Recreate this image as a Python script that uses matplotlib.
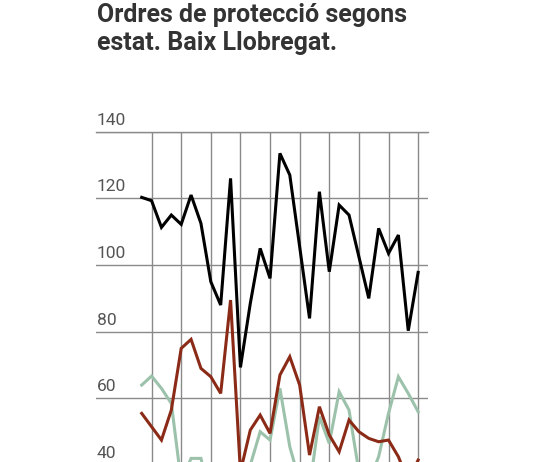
import matplotlib
matplotlib.use("Agg")
import matplotlib.pyplot as plt
import matplotlib.transforms as mt

total = [120.3,119.3,111.3,115,112.2,121,112.5,95,88,126,69.3,88.5,105,96,133.5,127,105.5,84,122,98,118,115,102.5,90,111,103.5,109,80.3,97.8]
red = [55.5,51.5,47.5,56.5,75,77.7,69,66.5,61.5,89.5,38,50.5,55,49.5,67,72.5,64,43,57.5,49,44,53.5,50,48,47,47.5,42.5,35,41.5]
green = [64,66.7,63,58.5,35,42,42,30,28,30,32,40,50,47.5,63,45.5,35,33,54.5,46.5,62,56.5,38,35,42.5,63.5,55.5,66.5,61.5,56]
green = green[:24] + [63.5,55.5,66.5,61.5,56]
green[24] = 42.5
yticks = [40, 60, 80, 100, 120, 140]
x = list(range(len(total)))

fig = plt.figure(figsize=(5.34, 4.62), dpi=100)
ax = fig.add_axes([96/534, (462-598.4)/462, (428-96)/534, (598.4-131.7)/462])
ax.set_xlim(-4.63, 29.0)
ax.set_ylim(0, 140)
for s in ax.spines.values():
    s.set_visible(False)
ax.set_xticks(range(1, 29, 3))
ax.set_yticks(yticks)
ax.tick_params(length=0, labelbottom=False, labelleft=False)
ax.grid(True, color="#8a8a8a", linewidth=1)
ax.axhline(140, color="#8a8a8a", linewidth=1, clip_on=False)
ax.set_axisbelow(True)
tr = mt.blended_transform_factory(ax.transAxes, ax.transData)
for v in yticks:
    ax.text(0.003, v + 1.2, str(v), transform=tr, ha="left", va="bottom", fontsize=12.5,
            color="#555555", family="Roboto", clip_on=False)
ax.plot(x, green, color="#9cc2ab", lw=2.2, solid_joinstyle="miter")
ax.plot(x, red, color="#8b2b17", lw=2.2, solid_joinstyle="miter")
ax.plot(x, total, color="#000000", lw=2.2, solid_joinstyle="miter", clip_on=False)
fig.text(97/534, 1-3/462, "Ordres de protecció segons\nestat. Baix Llobregat.", ha="left", va="top",
         fontsize=18, fontweight="bold", color="#333333", family="Roboto", linespacing=1.2)
fig.savefig("out.png", dpi=100)
